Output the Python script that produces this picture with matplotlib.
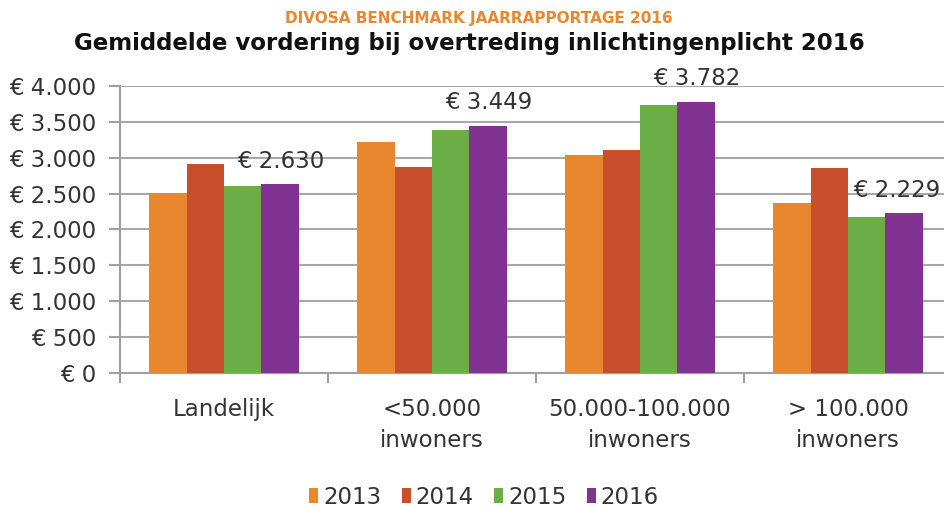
import matplotlib
matplotlib.use("Agg")
import matplotlib.pyplot as plt
import numpy as np

categories = ["Landelijk", "<50.000\ninwoners", "50.000-100.000\ninwoners", "> 100.000\ninwoners"]
years = ["2013", "2014", "2015", "2016"]
v2013 = [2510, 3220, 3037, 2369]
v2014 = [2910, 2873, 3113, 2863]
v2015 = [2600, 3385, 3734, 2180]
v2016 = [2630, 3449, 3782, 2229]
series = [v2013, v2014, v2015, v2016]
colors = ["#E8872E", "#C84E2C", "#6AAE45", "#823291"]
yticks = [0, 500, 1000, 1500, 2000, 2500, 3000, 3500, 4000]
ytick_labels = ["€ 0", "€ 500", "€ 1.000", "€ 1.500", "€ 2.000", "€ 2.500", "€ 3.000", "€ 3.500", "€ 4.000"]
label_texts = ["€ 2.630", "€ 3.449", "€ 3.782", "€ 2.229"]

plt.rcParams['font.family'] = ['DejaVu Sans']
FS = 16.5
fig = plt.figure(figsize=(9.45, 5.11), dpi=100)
W, H = 945, 511
ax = fig.add_axes([120 / W, 1 - 373 / H, 832 / W, (373 - 86) / H])

x = np.arange(len(categories))
bw = 0.18
for i, (vals, c, yr) in enumerate(zip(series, colors, years)):
    ax.bar(x + (i - 1.5) * bw, vals, width=bw, color=c, label=yr, zorder=3)

for k, (xi, v, t) in enumerate(zip(x, v2016, label_texts)):
    dx = -0.035 if k == len(x) - 1 else 0.0
    ax.text(xi + 1.5 * bw + dx, v + 320, t, ha="center", va="center", fontsize=FS, color="#333333")

ax.set_ylim(0, 4000)
ax.set_xlim(-0.5, 3.5)
ax.set_yticks(yticks)
ax.set_yticklabels(ytick_labels, fontsize=FS, color="#333333")
ax.set_xticks([-0.5, 0.5, 1.5, 2.5])
ax.set_xticklabels([])
ax.set_xticks(x, minor=True)
ax.set_xticklabels(categories, minor=True, fontsize=FS, color="#333333", linespacing=1.45)
ax.tick_params(axis="x", which="minor", length=0, pad=18)
ax.tick_params(axis="x", which="major", length=7, color="#A0A0A0", width=1.5)
ax.tick_params(axis="y", length=8, color="#A0A0A0", width=1.5, pad=9)
ax.yaxis.grid(True, color="#A8A8A8", linewidth=1.5, zorder=0)
ax.set_axisbelow(True)
for s in ["top", "right"]:
    ax.spines[s].set_visible(False)
for s in ["left", "bottom"]:
    ax.spines[s].set_color("#A0A0A0")
    ax.spines[s].set_linewidth(1.5)

fig.text(479 / W, 1 - 18 / H, "DIVOSA BENCHMARK JAARRAPPORTAGE 2016", ha="center", va="center",
         fontsize=11, fontweight="bold", color="#E8872E")
fig.text(469 / W, 1 - 43 / H, "Gemiddelde vordering bij overtreding inlichtingenplicht 2016", ha="center",
         va="center", fontsize=16.5, fontweight="bold", color="#111111")

leg = fig.legend(loc="center", bbox_to_anchor=(484 / W, 1 - 497 / H), ncol=4, frameon=False,
                 fontsize=FS, handlelength=0.4, handleheight=0.6, handletextpad=0.2, columnspacing=0.9)
for t in leg.get_texts():
    t.set_color("#333333")

fig.savefig("out.png", dpi=100)
